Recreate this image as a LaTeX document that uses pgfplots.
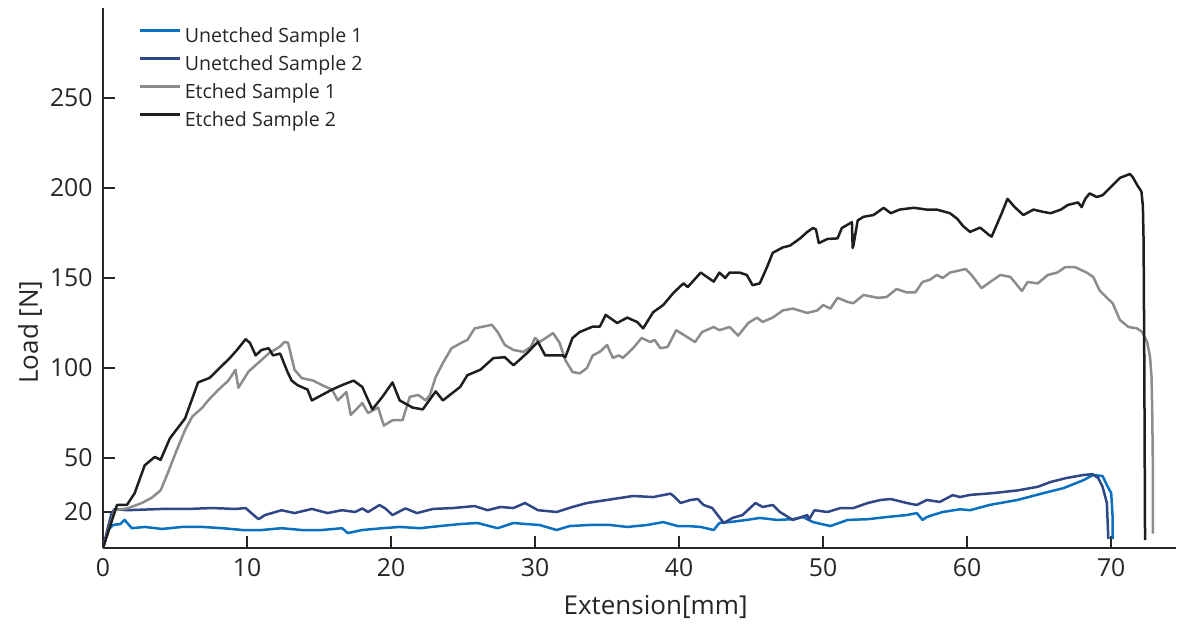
\documentclass[border=0pt]{standalone}
\usepackage{pgfplots}
\pgfplotsset{compat=1.18}
\usepackage{fontspec}
\setmainfont{Open Sans}
\definecolor{ublue}{HTML}{0A70C0}
\definecolor{udark}{HTML}{2F4784}
\definecolor{egray}{HTML}{8C8C8C}
\definecolor{eblack}{HTML}{1E1E1E}
\definecolor{axcol}{HTML}{262626}
\begin{document}
\begin{tikzpicture}
\begin{axis}[
  scale only axis, width=536.5pt, height=270pt,
  xmin=0, xmax=74.5, ymin=0, ymax=300,
  axis x line*=bottom, axis y line*=left,
  axis line style={line width=1pt, color=axcol},
  xtick={0,10,20,30,40,50,60,70}, ytick={20,50,100,150,200,250},
  tick align=inside, major tick length=6pt,
  tick style={line width=1pt, color=axcol},
  tick label style={font=\fontsize{12.4}{14}\selectfont, color=axcol},
  /pgf/number format/assume math mode=true,
  xticklabel style={inner sep=5pt},
  yticklabel style={inner sep=5pt},
  xlabel={Extension[mm]},
  ylabel={Load [N]},
  label style={font=\fontsize{13}{15}\selectfont, color=axcol},
  xlabel style={at={(axis description cs:0.515,-0.109)}, anchor=center},
  ylabel style={at={(axis description cs:-0.068,0.40)}, anchor=center},
  legend style={at={(axis description cs:0.0326,0.963)}, anchor=north west,
    draw=none, fill=none, font=\fontsize{9.8}{11}\selectfont, text=axcol,
    inner sep=0pt, row sep=4.8pt, column sep=2pt,
    nodes={inner sep=0pt, text height=7.2pt, text depth=2pt}},
  legend cell align=left,
  legend image code/.code={\draw[#1, line width=1.2pt] (0pt,3.6pt) -- (20pt,3.6pt);},
  every axis plot/.append style={line width=1.25pt, line join=round},
]
\addplot[ublue] coordinates {
(0,0) (0.35,10) (0.7,12.8) (1.2,13.3) (1.5,15.6) (2.0,11) (2.9,11.7) (4.1,10.6) (5.5,11.7) (6.9,11.7) (8.3,11) (9.7,10) (11.0,10) (12.4,11) (13.8,10) (15.2,10) (16.6,11) (17.0,8.3) (18.0,10) (19.4,11) (20.6,11.7) (22.0,11) (23.4,12.2) (24.8,13.3) (26.0,13.9) (27.4,11) (28.5,13.9) (29.4,13.3) (30.3,12.8) (31.5,10) (32.4,12.2) (33.8,12.8) (35.2,12.8) (36.4,11.7) (37.8,12.8) (38.9,14.4) (39.9,12.2) (40.6,12.2) (41.5,11.7) (42.4,10) (42.8,13.9) (43.5,14.4) (44.7,15.6) (45.6,16.7) (46.8,15.6) (47.9,16) (48.6,17.2) (49.3,14.4) (50.5,12.2) (51.7,15.6) (53.1,16) (54.4,17.2) (55.8,18.3) (56.5,19.4) (56.9,15.6) (57.2,17.2) (57.6,18.3) (58.3,20) (59.5,21.5) (60.2,21) (61.6,24) (63.5,26.7) (65.3,30.5) (66.7,33.3) (68.1,37.8) (68.75,40.6) (69.4,40) (69.7,35) (70.0,30.5) (70.1,17) (70.1,5)
};
\addlegendentry{Unetched Sample 1}
\addplot[udark] coordinates {
(0,0) (0.3,10) (0.6,19.4) (0.8,21.6) (1.7,21) (4.1,21.7) (5.9,21.7) (7.6,22.2) (9.2,21.7) (9.9,22.2) (10.3,19.4) (10.8,16) (11.25,18.3) (12.4,21) (13.3,19.4) (14.5,21.7) (15.6,19.4) (16.6,21) (17.5,20) (18.0,22) (18.4,20) (19.2,23.9) (19.6,22) (20.1,18.3) (21.0,22) (21.8,19.4) (22.9,21.7) (24.3,22.2) (25.8,23.3) (26.7,21) (27.6,22.8) (28.5,22.2) (29.3,25) (30.2,21) (31.5,20) (32.6,22.8) (33.6,25) (35.0,26.7) (36.8,28.9) (38.2,28.3) (39.4,30.2) (39.7,28.3) (40.1,25) (40.8,26.7) (41.3,27.2) (41.7,23.9) (42.3,22.2) (43.1,13.9) (43.7,16.7) (44.4,18.3) (45.3,25) (45.8,22.8) (46.5,23.9) (47.0,20) (47.9,15.6) (48.9,18.3) (49.0,15.6) (49.4,21) (50.3,20) (51.2,22.2) (52.1,22.2) (53.1,25) (54.0,26.7) (54.7,27.2) (55.8,25) (56.5,23.9) (57.2,26.7) (58.1,25.6) (59.0,29.4) (59.5,28.3) (60.2,29.5) (61.8,30.5) (63.5,32) (64.9,34) (65.8,36.7) (66.9,38.9) (68.1,40.6) (68.7,41) (69.1,38.9) (69.4,34) (69.7,25) (69.8,5)
};
\addlegendentry{Unetched Sample 2}
\addplot[egray] coordinates {
(0,0) (0.8,21) (1.7,22) (2.7,25) (3.4,28) (4.0,32) (4.5,41.7) (5.1,54) (5.7,65.6) (6.2,73) (6.9,78) (7.3,82) (8.0,87.8) (8.7,93) (9.2,99) (9.4,89) (10.1,98) (10.8,103) (11.5,108) (12.3,112) (12.6,114.5) (12.85,114) (13.3,99) (13.8,94.4) (14.6,93) (15.2,90.5) (15.9,88) (16.3,82) (16.9,86.7) (17.2,74) (17.7,78) (18.0,80.6) (18.4,75) (19.1,78) (19.5,68) (20.1,71) (20.8,71) (21.3,84) (21.9,85) (22.4,82) (22.7,85) (23.1,95) (23.6,102.8) (24.2,111) (25.0,114.5) (25.3,115.6) (25.8,122) (26.4,123) (27.0,124) (27.4,120) (27.9,112.8) (28.5,110) (29.2,109) (29.7,111.7) (30.0,116.7) (30.3,114.4) (30.8,117) (31.25,119.4) (31.7,114) (32.1,104.4) (32.6,97.8) (33.1,97) (33.6,100) (34.0,107) (34.5,109) (35.0,112.8) (35.4,105.6) (35.8,107) (36.1,105.6) (36.8,111) (37.4,116.7) (38.0,114.4) (38.3,115.6) (38.7,111) (39.2,111.7) (39.8,121) (40.6,117) (41.1,114.4) (41.6,120) (42.4,122.8) (42.8,121) (43.5,122.8) (44.1,118) (44.8,125) (45.4,128) (45.8,125.6) (46.5,128) (47.2,132) (47.9,133) (48.9,130.6) (49.6,132) (50.0,135) (50.5,133) (51.0,139) (51.7,136.7) (52.1,136) (52.8,140.6) (53.8,139) (54.4,139.4) (55.1,143.9) (55.8,142) (56.4,142) (56.9,147.8) (57.4,149) (57.9,151.7) (58.3,150) (58.8,153) (59.9,155) (60.3,151.7) (61.0,144.4) (61.6,147.8) (62.3,151.7) (63.0,150.6) (63.8,142.8) (64.2,147.8) (64.9,147) (65.6,151.7) (66.25,153) (66.8,156) (67.5,156) (68.3,153) (68.75,150.6) (69.2,143) (69.7,139) (70.1,136) (70.6,126.7) (71.2,122.8) (71.8,122) (72.15,120) (72.5,114.4) (72.7,106) (72.8,95) (72.85,75) (72.9,40) (72.9,8)
};
\addlegendentry{Etched Sample 1}
\addplot[eblack] coordinates {
(0,0) (0.97,23.9) (1.67,24) (2.2,30.5) (2.9,46) (3.6,50.6) (4.0,49) (4.65,61) (5.7,72) (6.6,92) (7.4,94.5) (8.1,100) (8.8,105.5) (9.3,110) (9.9,116) (10.2,114) (10.6,107) (11.0,110) (11.5,111) (11.8,107) (12.3,108) (12.8,98) (13.1,93) (13.5,90.5) (14.2,88) (14.5,82) (15.2,85) (15.9,88) (16.6,90.5) (17.4,93) (18.0,89.5) (18.7,77) (19.4,84) (20.1,92) (20.6,82) (21.5,78) (22.2,77) (23.1,87) (23.6,82) (24.8,89.5) (25.3,96) (26.2,99) (27.1,105.5) (27.9,106) (28.5,101.5) (29.4,108) (30.2,114.5) (30.7,107) (31.3,107) (31.9,107) (32.1,106) (32.6,116.7) (33.1,120) (34.0,123) (34.5,123) (34.9,129.5) (35.7,125) (36.4,128) (37.1,125.5) (37.5,122) (38.2,131) (38.9,135) (39.6,141.7) (40.3,147) (40.6,145) (41.5,153) (42.4,148) (42.8,153) (43.2,150) (43.5,153) (44.2,153) (44.7,151.7) (45.1,146) (45.6,147) (46.1,156) (46.5,164) (47.2,167) (47.7,168) (48.4,172) (48.9,175.6) (49.3,177.8) (49.5,177) (49.7,169.4) (50.3,171.7) (51.0,172) (51.3,177.8) (52.0,181) (52.05,166.7) (52.1,168) (52.4,182) (52.8,184) (53.5,185) (54.2,189) (54.7,186) (55.3,188) (56.3,189) (57.2,188) (57.9,188) (58.8,186) (59.3,183) (59.7,179) (60.2,175.6) (60.9,178) (61.5,174) (61.7,173) (62.4,186) (62.8,194) (63.3,189.4) (63.9,185) (64.6,188) (65.3,186.7) (65.8,186) (66.5,188) (67.0,190.6) (67.7,192) (67.95,189.4) (68.2,194) (68.5,197) (69.0,195) (69.4,196) (69.9,200) (70.6,205.6) (71.3,207.8) (71.5,206) (71.8,201.7) (72.1,198) (72.2,190) (72.25,170) (72.3,100) (72.35,4.4)
};
\addlegendentry{Etched Sample 2}
\end{axis}
\pgfresetboundingbox
\useasboundingbox (-51.5pt,-40pt) rectangle (537.5pt,274pt);
\end{tikzpicture}
\end{document}
